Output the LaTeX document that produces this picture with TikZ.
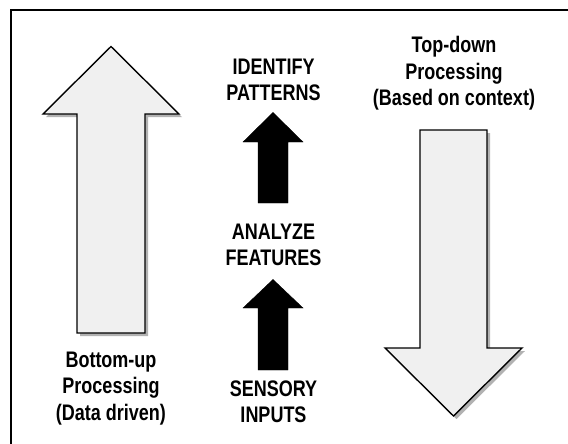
\documentclass[tikz,border=0pt]{standalone}
\usepackage{fontspec}
\setmainfont{Liberation Sans}[FakeStretch=0.8]
\usetikzlibrary{shadows}
\tikzset{
    label/.style ={
        align=center,
        font=\fontsize{22.5}{26.5}\selectfont\bfseries,
        inner sep=0pt
    },
    hollow/.style ={
        draw=black,
        line width=1.4pt,
        fill=black!6,
        line join=miter,
        drop shadow={shadow xshift=3pt, shadow yshift=-3pt, opacity=0.5, fill=black!60}
    },
    solid/.style ={
        draw=black,
        fill=black
    }
}

\begin{document}
\begin{tikzpicture}[x=1pt,y=-1pt]
    \useasboundingbox (0,0) rectangle (568,444);
    \draw[line width=1.5pt] (11,10) rectangle (580,460);

    % big arrows
    \draw[hollow] (111,46.5) -- (179,114) -- (145,114) -- (145,333)
        -- (77,333) -- (77,114) -- (43,114) -- cycle;
    \draw[hollow] (453.5,416) -- (522,348) -- (487,348) -- (487,130)
        -- (420,130) -- (420,348) -- (385,348) -- cycle;

    % small arrows
    \draw[solid] (273,112.5) -- (303,142) -- (288,142) -- (288,203)
        -- (258,203) -- (258,142) -- (243,142) -- cycle;
    \draw[solid] (273,279.5) -- (303,308) -- (288,308) -- (288,370)
        -- (258,370) -- (258,308) -- (243,308) -- cycle;

    \node[label] (bottomup) at(111,388.5) {Bottom-up\\Processing\\(Data driven)};
    \node[label] (topdown) at(454,73.5) {Top-down\\Processing\\(Based on context)};
    \node[label] (identify) at(273.5,80) {IDENTIFY\\PATTERNS};
    \node[label] (analyze) at(273.5,245) {ANALYZE\\FEATURES};
    \node[label] (sensory) at(273.5,402) {SENSORY\\INPUTS};
\end{tikzpicture}
\end{document}
